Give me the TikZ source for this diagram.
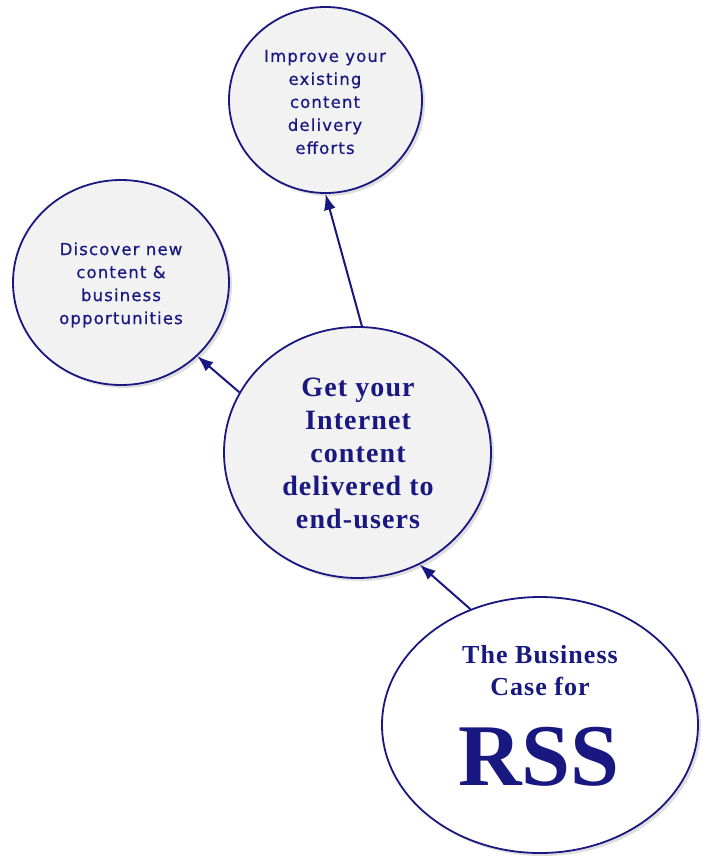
\documentclass[tikz,border=0pt]{standalone}
\usepackage{fontspec}
\usetikzlibrary{shapes.geometric,arrows.meta,shadows}
\newfontfamily\smallsans[LetterSpace=7,FakeBold=0.6]{DejaVu Sans}
\newfontfamily\bigserif[LetterSpace=4]{Liberation Serif}
\newfontfamily\rssfont{Liberation Serif}
\definecolor{navy}{RGB}{24,24,128}
\definecolor{bubblefill}{RGB}{242,242,242}
\begin{document}
\begin{tikzpicture}[x=1pt,y=-1pt,
  bubble/.style={ellipse, draw=navy, line width=1.8pt, fill=bubblefill, inner sep=0pt,
    drop shadow={shadow xshift=3pt, shadow yshift=-3pt, opacity=0.25, fill=gray}},
  smalltext/.style={text=navy, align=center, font=\smallsans\fontsize{16.5}{23}\selectfont},
  bigtext/.style={text=navy, align=center, font=\bigserif\bfseries\fontsize{28}{33}\selectfont},
  conn/.style={draw=navy, line width=2pt, -{Latex[length=16pt,width=12pt]}}]
\useasboundingbox (0,0) rectangle (702,856);
\fill[white] (0,0) rectangle (702,856);
% shapes
\node[bubble, minimum width=193pt, minimum height=186pt] (top) at (325.5,100) {};
\node[bubble, minimum width=216pt, minimum height=205pt] (left) at (121,282.5) {};
\node[bubble, minimum width=267pt, minimum height=251pt] (mid) at (357.5,452.5) {};
\node[bubble, fill=white, minimum width=316pt, minimum height=256pt] (case) at (540,725) {};
% texts
\node[smalltext] (toptext) at (325,102) {Improve your\\existing\\content\\delivery\\efforts};
\node[smalltext] (lefttext) at (121,285) {Discover new\\content \&\\business\\opportunities};
\node[bigtext] (midtext) at (358,453) {Get your\\Internet\\content\\delivered to\\end-users};
\node[text=navy, align=center, font=\bigserif\bfseries\fontsize{26}{32}\selectfont] (casetext) at (540,671) {The Business\\Case for};
\node[text=navy, anchor=base, inner sep=0pt, font=\rssfont\bfseries\fontsize{88}{88}\selectfont] (rss) at (539,785) {RSS};
% connectors
\draw[conn] (mid.88) -- (top.-90);
\draw[conn] (mid.153) -- (left.-44);
\draw[conn] (case.121.6) -- (mid.-61);
\end{tikzpicture}
\end{document}
